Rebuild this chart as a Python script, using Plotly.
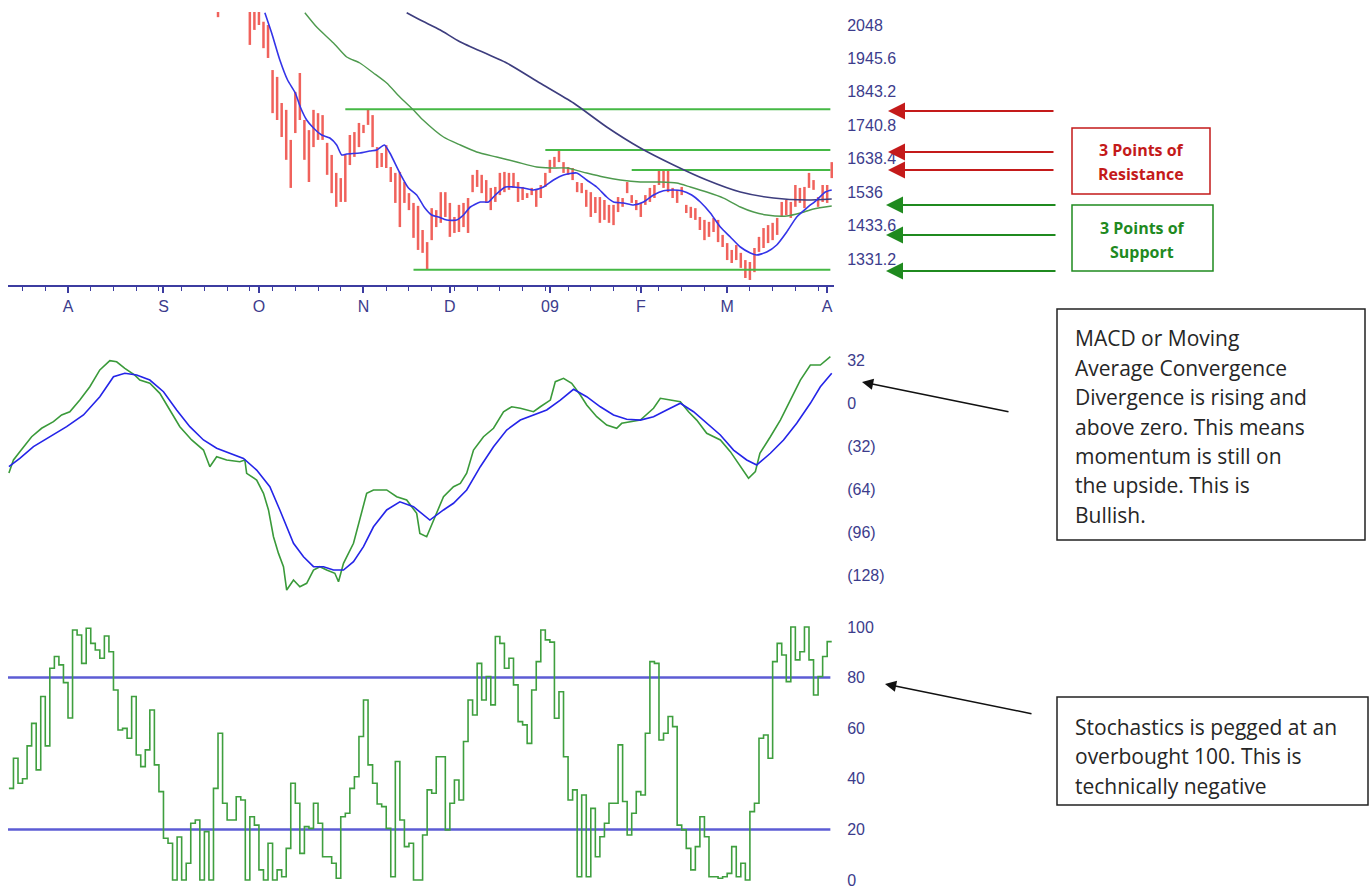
import plotly.graph_objects as go

# ---------------- data (trading-day index on the x axis) ----------------
month_idx = [13, 34, 55, 78, 97, 119, 139, 158, 180]
month_lbl = ["A", "S", "O", "N", "D", "09", "F", "M", "A"]

price_ticks = [2048, 1945.6, 1843.2, 1740.8, 1638.4, 1536, 1433.6, 1331.2]

bar_idx = [46] + list(range(53, 182))
bar_high = [2095,
    2120, 2105, 2100, 2058, 2048, 1910, 1889, 1809, 1788, 1696,   # 53-62
    1843, 1901, 1757, 1726, 1788, 1778, 1772, 1687, 1650, 1595,   # 63-72
    1579, 1650, 1711, 1720, 1748, 1742, 1788, 1772, 1674, 1656,   # 73-82
    1680, 1613, 1595, 1598, 1567, 1533, 1503, 1494, 1420, 1383,   # 83-92
    1487, 1481, 1536, 1536, 1503, 1460, 1497, 1503, 1518, 1589,   # 93-102
    1604, 1589, 1573, 1549, 1552, 1595, 1598, 1595, 1595, 1567,   # 103-112
    1552, 1533, 1549, 1543, 1558, 1595, 1635, 1644, 1665, 1628,   # 113-122
    1613, 1610, 1567, 1564, 1543, 1536, 1521, 1521, 1512, 1497,   # 123-132
    1497, 1521, 1518, 1567, 1527, 1512, 1503, 1527, 1549, 1558,   # 133-142
    1604, 1604, 1604, 1549, 1543, 1552, 1497, 1491, 1487, 1460,   # 143-152
    1451, 1445, 1457, 1451, 1405, 1380, 1359, 1374, 1350, 1328,   # 153-162
    1322, 1365, 1399, 1426, 1435, 1442, 1457, 1506, 1512, 1506,   # 163-172
    1558, 1549, 1552, 1595, 1573, 1521, 1558, 1558, 1628]         # 173-181
bar_low = [2072,
    1987, 2033, 2048, 1977, 1947, 1778, 1757, 1705, 1635, 1549,   # 53-62
    1717, 1757, 1635, 1567, 1674, 1696, 1696, 1589, 1533, 1491,   # 63-72
    1506, 1506, 1619, 1644, 1674, 1717, 1742, 1674, 1610, 1613,   # 73-82
    1610, 1567, 1503, 1429, 1503, 1481, 1396, 1359, 1350, 1298,   # 83-92
    1389, 1429, 1442, 1460, 1399, 1411, 1414, 1429, 1411, 1536,   # 93-102
    1552, 1533, 1503, 1481, 1506, 1527, 1536, 1543, 1549, 1506,   # 103-112
    1512, 1518, 1527, 1491, 1518, 1552, 1595, 1613, 1628, 1595,   # 113-122
    1589, 1573, 1536, 1533, 1491, 1460, 1472, 1442, 1451, 1442,   # 123-132
    1435, 1475, 1491, 1533, 1503, 1481, 1460, 1497, 1506, 1518,   # 133-142
    1558, 1549, 1536, 1518, 1503, 1527, 1472, 1457, 1451, 1420,   # 143-152
    1389, 1399, 1414, 1383, 1368, 1328, 1319, 1328, 1304, 1273,   # 153-162
    1267, 1291, 1353, 1365, 1380, 1389, 1405, 1460, 1466, 1457,   # 163-172
    1491, 1503, 1487, 1549, 1543, 1491, 1506, 1503, 1579]         # 173-181

ma_short_x = [56.3, 57.8, 59.6, 61.3, 63.0, 64.1, 65.5, 67.0, 68.8, 70.6,
              72.1, 73.2, 74.3, 77.2, 79.4, 80.9, 82.6, 83.8, 86.0, 87.9,
              89.7, 91.5, 93.0, 94.5, 96.3, 98.5, 100.0, 101.5, 103.7, 105.5,
              107.0, 109.2, 111.0, 113.2, 115.4, 117.6, 119.8, 122.0, 124.9, 127.1,
              129.3, 131.5, 133.0, 135.2, 137.4, 139.6, 141.8, 144.0, 146.2, 148.0,
              150.2, 152.1, 154.3, 156.5, 158.7, 160.9, 163.1, 164.5, 166.7, 168.9,
              171.1, 173.3, 175.5, 177.7, 179.6, 181.0]
ma_short_v = [2085.7, 2023.5, 1940.8, 1879.5, 1839.7, 1796.8, 1757.0, 1732.5, 1711.0, 1701.9,
              1680.4, 1649.8, 1652.9, 1655.9, 1662.0, 1665.1, 1680.4, 1655.9, 1594.6, 1548.7,
              1527.3, 1487.4, 1466.0, 1459.9, 1450.7, 1450.7, 1466.0, 1490.5, 1505.8, 1505.8,
              1527.3, 1551.8, 1551.8, 1548.7, 1542.6, 1551.8, 1573.2, 1588.5, 1594.6, 1573.2,
              1551.8, 1521.1, 1505.8, 1502.8, 1496.6, 1505.8, 1527.3, 1540.4, 1542.6, 1540.4,
              1527.3, 1505.8, 1472.1, 1429.2, 1398.6, 1368.0, 1349.6, 1343.5, 1352.6, 1374.1,
              1413.9, 1459.9, 1487.4, 1511.9, 1536.4, 1542.6]

ma_mid_x = [65.1, 67.7, 71.4, 74.3, 77.2, 80.2, 83.1, 86.0, 89.0, 91.1,
            95.6, 99.3, 102.9, 107.3, 111.7, 116.1, 119.1, 122.7, 127.1, 130.8,
            134.5, 138.9, 143.3, 146.9, 149.9, 153.5, 157.2, 160.9, 163.8, 166.7,
            171.1, 174.1, 177.0, 181.0]
ma_mid_v = [2085.7, 2041.9, 1992.9, 1950.0, 1931.6, 1901.0, 1870.3, 1827.5, 1787.6, 1757.0,
            1704.9, 1680.4, 1659.0, 1643.7, 1628.4, 1613.0, 1610.0, 1610.0, 1594.6, 1582.4,
            1573.2, 1567.1, 1567.1, 1564.0, 1551.8, 1536.4, 1518.0, 1490.5, 1475.2, 1466.0,
            1462.9, 1472.1, 1484.4, 1493.6]

ma_long_x = [87.5, 90.5, 94.9, 99.2, 109.5, 116.8, 124.2, 131.5, 138.9, 146.2,
             153.5, 160.9, 168.2, 175.5, 181.0]
ma_long_v = [2085.7, 2063.3, 2032.7, 1996.9, 1931.6, 1870.3, 1809.0, 1735.6, 1671.2, 1619.2,
             1573.2, 1536.4, 1518.0, 1511.9, 1515.0]

sr_levels = [1790, 1665, 1604, 1298]
sr_start = [74, 118, 137, 89]
sr_end = 180.7

macd_x = [0, 1.0, 2.4, 5.0, 7.2, 9.8, 11.6, 13.4, 15.6, 17.8,
          20.0, 22.2, 23.7, 25.5, 27.7, 28.8, 31.0, 33.2, 35.4, 37.6,
          40.2, 42.8, 44.2, 45.7, 47.9, 50.8, 51.9, 52.3, 54.5, 56.0,
          57.1, 58.2, 59.3, 60.4, 61.1, 62.6, 64.0, 65.5, 67.0, 68.4,
          69.9, 71.7, 72.5, 73.6, 75.8, 77.3, 78.7, 80.2, 83.1, 85.3,
          87.5, 89.7, 90.4, 91.9, 93.4, 95.6, 97.8, 99.3, 100.7, 102.2,
          104.4, 106.6, 108.8, 110.6, 112.5, 115.4, 116.9, 119.1, 120.2, 122.0,
          123.8, 125.7, 127.1, 129.3, 131.5, 133.7, 134.8, 136.7, 138.9, 141.8,
          143.3, 145.5, 147.7, 149.5, 151.3, 153.5, 156.5, 158.7, 160.9, 162.7,
          164.2, 165.2, 167.5, 169.7, 171.9, 174.1, 176.3, 178.5, 180.7]
macd_v = [-52.1, -42.4, -36.2, -25.1, -18.8, -13.9, -8.9, -6.5, 2.2, 12.1,
          24.6, 31.5, 30.7, 25.8, 20.8, 17.1, 14.7, 7.2, -5.2, -17.6,
          -27.5, -35.0, -47.4, -40.0, -42.4, -43.7, -42.4, -52.3, -57.3, -67.2,
          -79.6, -99.5, -111.9, -121.8, -139.2, -131.7, -136.7, -134.2, -124.3, -121.8,
          -124.3, -126.7, -133.0, -119.3, -104.4, -84.6, -67.2, -64.7, -64.7, -69.7,
          -72.2, -82.1, -97.0, -99.5, -87.1, -69.7, -62.3, -59.8, -52.3, -35.0,
          -25.1, -18.8, -6.5, -2.8, -3.9, -6.5, -2.8, 2.2, 15.9, 18.4,
          14.7, 6.0, -1.5, -10.2, -16.4, -18.8, -15.1, -13.9, -12.7, -3.9,
          3.5, 2.2, 1.0, -6.5, -12.7, -22.5, -27.5, -36.2, -47.4, -56.0,
          -51.1, -37.4, -25.1, -12.7, 2.2, 17.1, 28.3, 28.3, 34.5]

signal_x = [0, 2.4, 5.4, 9.0, 12.7, 16.4, 20.0, 23.0, 25.5, 28.1,
            31.0, 34.0, 36.9, 39.8, 42.8, 45.7, 49.4, 51.6, 54.5, 57.4,
            59.6, 61.1, 62.6, 64.8, 67.0, 69.2, 71.4, 73.6, 75.8, 78.0,
            80.2, 83.1, 86.0, 89.0, 92.6, 95.6, 97.8, 100.7, 103.7, 106.6,
            109.5, 112.5, 116.1, 118.3, 121.3, 124.2, 127.1, 130.1, 133.0, 135.9,
            138.9, 141.8, 144.7, 147.7, 150.6, 153.5, 156.5, 159.4, 162.3, 164.5,
            167.5, 170.4, 173.3, 176.3, 178.5, 181.0]
signal_v = [-47.4, -41.2, -32.5, -25.1, -17.6, -8.9, 4.7, 19.6, 22.1, 20.8,
            17.1, 8.4, -5.2, -17.6, -27.5, -33.7, -38.7, -41.2, -49.9, -62.3,
            -79.6, -92.1, -104.4, -114.4, -121.8, -121.8, -124.3, -124.3, -118.1, -106.9,
            -92.1, -79.6, -73.5, -77.2, -87.1, -79.6, -74.6, -64.7, -47.4, -32.5,
            -20.1, -12.7, -7.7, -5.2, 2.2, 10.2, 4.7, -2.8, -8.9, -12.1,
            -12.7, -10.2, -5.2, -0.2, -6.5, -15.1, -23.8, -35.0, -42.4, -46.1,
            -37.4, -27.5, -15.1, -0.2, 12.1, 22.1]
macd_tickvals = [32, 0, -32, -64, -96, -128]
macd_ticktext = ["32", "0", "(32)", "(64)", "(96)", "(128)"]

stoch = [
    36.2, 48.1, 38.2, 40.0, 53.0, 61.9, 43.5, 72.5, 53.0, 83.7,   # 0-9
    88.3, 85.0, 78.0, 64.0, 98.8, 96.8, 85.6, 99.5, 93.5, 90.9,   # 10-19
    87.6, 96.4, 90.2, 75.1, 59.3, 59.9, 56.0, 72.5, 49.4, 44.8,   # 20-29
    51.4, 67.2, 45.5, 34.9, 16.5, 14.5, 0.0, 17.0, 0.0, 6.6,      # 30-39
    22.4, 23.7, 0.0, 19.1, 0.0, 36.2, 58.0, 30.3, 23.7, 23.7,     # 40-49
    32.9, 31.6, 0.0, 25.0, 21.7, 4.0, 0.0, 14.5, 0.0, 4.0,        # 50-59
    1.3, 12.5, 38.2, 30.3, 10.5, 21.1, 20.4, 30.3, 22.4, 9.2,     # 60-69
    9.2, 6.6, 0.7, 25.0, 26.4, 36.2, 40.8, 56.7, 71.1, 45.5,      # 70-79
    38.2, 30.0, 29.0, 20.4, 1.3, 46.8, 23.7, 13.2, 14.5, 0.0,     # 80-89
    0.0, 17.8, 35.6, 34.3, 48.7, 48.7, 19.8, 30.3, 39.5, 31.6,    # 90-99
    54.7, 71.1, 65.2, 85.6, 71.1, 80.4, 69.2, 96.2, 93.5, 83.7,   # 100-109
    87.6, 77.1, 62.6, 61.3, 54.0, 75.1, 86.3, 98.8, 94.9, 94.0,   # 110-119
    63.9, 74.4, 48.7, 31.6, 35.6, 1.3, 33.6, 1.3, 28.3, 9.2,      # 120-129
    17.1, 22.4, 30.3, 30.3, 53.4, 31.0, 17.8, 26.4, 34.9, 33.6,   # 130-139
    58.0, 86.3, 85.6, 55.3, 58.0, 64.6, 60.6, 21.7, 19.8, 12.5,   # 140-149
    4.0, 13.2, 25.0, 17.1, 1.3, 1.3, 0.7, 1.3, 2.6, 13.2,         # 150-159
    1.3, 6.6, 0.0, 27.0, 30.3, 56.0, 57.3, 48.1, 86.3, 93.5,      # 160-169
    88.9, 78.4, 100.0, 87.0, 90.2, 100.0, 87.0, 73.1, 80.4, 88.3, # 170-179
    94.2, 94.2]                                                    # 180-181
stoch_idx = list(range(len(stoch)))
stoch_levels = [80, 20]
stoch_ticks = [100, 80, 60, 40, 20, 0]

macd_note = ["MACD or Moving", "Average Convergence", "Divergence is rising and",
             "above zero. This means", "momentum is still on", "the upside. This is",
             "Bullish."]
stoch_note = ["Stochastics is pegged at an", "overbought 100. This is",
              "technically negative"]

# ---------------- figure ----------------
W, H = 1369, 890


def px(x):
    return x / W


def py(y):
    return 1 - y / H


AX = "#3c3ca0"
LBL = "#3c3c8c"
TFONT = dict(family="Liberation Sans, Arial, sans-serif", size=16, color=LBL)
XR = [-0.2, 181.5]
XD = [px(8), px(834)]

fig = go.Figure()

fig.add_trace(go.Bar(
    x=bar_idx, base=bar_low, y=[h - l for h, l in zip(bar_high, bar_low)],
    width=0.55, marker=dict(color="#f0625c", line=dict(width=0)),
    xaxis="x", yaxis="y", hoverinfo="skip"))

for lvl, st in zip(sr_levels, sr_start):
    fig.add_trace(go.Scatter(x=[st, sr_end], y=[lvl, lvl], mode="lines",
                             line=dict(color="#45b845", width=2),
                             xaxis="x", yaxis="y", hoverinfo="skip"))

fig.add_trace(go.Scatter(x=ma_long_x, y=ma_long_v, mode="lines",
                         line=dict(color="#3d3d7e", width=1.6, shape="spline", smoothing=0.6),
                         xaxis="x", yaxis="y"))
fig.add_trace(go.Scatter(x=ma_mid_x, y=ma_mid_v, mode="lines",
                         line=dict(color="#4e9a4e", width=1.4, shape="spline", smoothing=0.6),
                         xaxis="x", yaxis="y"))
fig.add_trace(go.Scatter(x=ma_short_x, y=ma_short_v, mode="lines",
                         line=dict(color="#3434e8", width=1.6, shape="spline", smoothing=0.6),
                         xaxis="x", yaxis="y"))

fig.add_trace(go.Scatter(x=macd_x, y=macd_v, mode="lines",
                         line=dict(color="#3a9a3a", width=1.6),
                         xaxis="x2", yaxis="y2"))
fig.add_trace(go.Scatter(x=signal_x, y=signal_v, mode="lines",
                         line=dict(color="#2424e8", width=1.6),
                         xaxis="x2", yaxis="y2"))

for lvl in stoch_levels:
    fig.add_trace(go.Scatter(x=[-0.2, sr_end], y=[lvl, lvl], mode="lines",
                             line=dict(color="#5c5cd4", width=2.5),
                             xaxis="x3", yaxis="y3"))
fig.add_trace(go.Scatter(x=stoch_idx, y=stoch, mode="lines",
                         line=dict(color="#3f9f3f", width=1.6, shape="hv"),
                         xaxis="x3", yaxis="y3"))

yax_common = dict(side="right", showgrid=False, zeroline=False, showline=False,
                  ticks="outside", ticklen=9, tickcolor="rgba(0,0,0,0)",
                  tickfont=TFONT, fixedrange=True)

fig.update_layout(
    width=W, height=H, margin=dict(l=0, r=0, t=0, b=0, autoexpand=False),
    paper_bgcolor="white", plot_bgcolor="white", showlegend=False,
    xaxis=dict(domain=XD, range=XR, anchor="y", showline=True, linecolor=AX,
               linewidth=2, ticks="outside", ticklen=6, tickwidth=1.5, tickcolor=AX,
               tickvals=month_idx, ticktext=month_lbl, tickfont=TFONT,
               showgrid=False, zeroline=False,
               minor=dict(ticks="outside", ticklen=4, tickwidth=1.2, tick0=3, dtick=5,
                          tickcolor=AX, showgrid=False)),
    xaxis2=dict(domain=XD, range=XR, anchor="y2", visible=False),
    xaxis3=dict(domain=XD, range=XR, anchor="y3", visible=False),
    yaxis=dict(domain=[py(285), py(12)], range=[1251.6, 2087.8], anchor="x",
               tickvals=price_ticks, ticktext=[f"{v:g}" for v in price_ticks],
               **yax_common),
    yaxis2=dict(domain=[py(600), py(340)], range=[-146.6, 46.9], anchor="x2",
                tickvals=macd_tickvals, ticktext=macd_ticktext, **yax_common),
    yaxis3=dict(domain=[py(889), py(612)], range=[-3.56, 105.9], anchor="x3",
                tickvals=stoch_ticks, ticktext=[str(v) for v in stoch_ticks],
                **yax_common),
)

shapes = []
annots = []


def box(x0, y0, x1, y1, color, width=1.5):
    shapes.append(dict(type="rect", xref="paper", yref="paper",
                       x0=px(x0), x1=px(x1), y0=py(y1), y1=py(y0),
                       line=dict(color=color, width=width), fillcolor="rgba(0,0,0,0)"))


def text(x, y, s, size, color, bold=False, xanchor="left", family="Open Sans, sans-serif"):
    annots.append(dict(xref="paper", yref="paper", x=px(x), y=py(y), text=(f"<b>{s}</b>" if bold else s),
                       showarrow=False, xanchor=xanchor, yanchor="middle",
                       font=dict(family=family, size=size, color=color)))


def arrow(hx, hy, tx, ty, color, width, size):
    annots.append(dict(xref="paper", yref="paper", x=px(hx), y=py(hy), text="",
                       showarrow=True, ax=tx - hx, ay=ty - hy, arrowhead=2,
                       arrowsize=size, arrowwidth=width, arrowcolor=color))


RED = "#c41a1a"
GRN = "#1f8a1f"
for yy in [111, 152, 170]:
    arrow(888, yy, 1055, yy, RED, 2, 1.7)
for yy in [205, 235, 271]:
    arrow(886, yy, 1057, yy, GRN, 2, 1.7)

box(1072, 128, 1210, 194, RED)
text(1141, 150, "3 Points of", 16, RED, bold=True, xanchor="center")
text(1141, 174, "Resistance", 16, RED, bold=True, xanchor="center")
box(1072, 205, 1213, 271, GRN)
text(1142, 228, "3 Points of", 16, GRN, bold=True, xanchor="center")
text(1142, 252, "Support", 16, GRN, bold=True, xanchor="center")

box(1057, 309, 1365, 540, "#222222", 1.5)
for k, line in enumerate(macd_note):
    text(1073, 338 + k * 29.5, line, 21, "#262626")
box(1057, 697, 1368, 805, "#222222", 1.5)
for k, line in enumerate(stoch_note):
    text(1073, 727 + k * 29.3, line, 21, "#262626")

arrow(862, 382, 1010, 412, "#111111", 1.6, 1.4)
arrow(885, 684, 1033, 714, "#111111", 1.6, 1.4)

fig.update_layout(shapes=shapes, annotations=annots)
fig.write_html("out.html", config={"displayModeBar": False},
               post_script="document.body.style.margin='0';document.body.style.padding='0';")
